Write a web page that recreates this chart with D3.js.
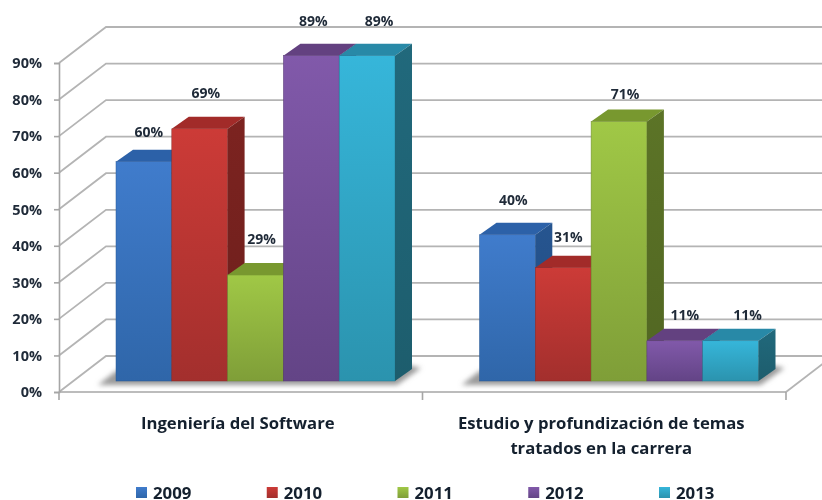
<!DOCTYPE html>
<html><head><meta charset="utf-8">
<script src="https://cdn.jsdelivr.net/npm/d3@7"></script>
<style>html,body{margin:0;padding:0;background:#fff;overflow:hidden}svg{display:block;filter:blur(.4px)}</style>
</head><body><svg id="c" width="822" height="500"></svg>
<script>
const categories = ["Ingeniería del Software", "Estudio y profundización de temas|tratados en la carrera"];
const years = ["2009","2010","2011","2012","2013"];
const values = {
  "2009":[60,40],
  "2010":[69,31],
  "2011":[29,71],
  "2012":[89,11],
  "2013":[89,11]
};
const shownLabels = {
  "2009":["60%","40%"],
  "2010":["69%","31%"],
  "2011":["29%","71%"],
  "2012":["89%","11%"],
  "2013":["89%","11%"]
};
const yTicks = [0,10,20,30,40,50,60,70,80,90];
const frontTop = ["#407ccc","#cc3b37","#a0c846","#8159aa","#36b6da"];
const frontBot = ["#2f66a9","#a32f2d","#7f9e38","#634486","#2b93ae"];
const topCol = ["#2c61a8","#a22b29","#78982f","#634180","#2889a7"];
const sideCol = ["#265590","#7c2320","#5c7427","#4b3263","#21697c"];
// label nudges relative to bar centre [dx, gap above bar]
const labelDx = [[5,6],[6,5],[6,6],[2,10],[12,17]];
const labelGap = [[30,35],[36,31],[36,27],[35,26],[35,26]];

const svg = d3.select("#c");
const defs = svg.append("defs");
years.forEach((yr,i)=>{
  const g = defs.append("linearGradient").attr("id","g"+i).attr("x1",0).attr("x2",0).attr("y1",0).attr("y2",1);
  g.append("stop").attr("offset","0").attr("stop-color",frontTop[i]);
  g.append("stop").attr("offset","1").attr("stop-color",frontBot[i]);
  const h = defs.append("linearGradient").attr("id","s"+i).attr("x1",0).attr("x2",0).attr("y1",0).attr("y2",1);
  h.append("stop").attr("offset","0").attr("stop-color",sideCol[i]);
  h.append("stop").attr("offset","1").attr("stop-color",d3.color(sideCol[i]).darker(.35));
});
defs.append("filter").attr("id","blur").attr("x","-20%").attr("y","-50%").attr("width","140%").attr("height","200%")
  .append("feGaussianBlur").attr("stdDeviation",2.4);

const FONT = "'Open Sans',sans-serif";
const wall = {dx:47, dy:-36};
const bar = {lift:11, dx:17, dy:-12, inL:57, inR:336};
const x0 = d3.scaleBand().domain(categories).range([59,786]);
const y = d3.scaleLinear().domain([0,90]).range([392,63]);
const x1 = d3.scaleBand().domain(years).range([bar.inL,bar.inR]);
const GRID="#b4b4b4", AXIS="#a6a6a6";

// walls and gridlines
const grid = svg.append("g").attr("fill","none").attr("stroke",GRID).attr("stroke-width",1.8);
yTicks.forEach(t=>{
  grid.append("path").attr("d",`M${x0.range()[0]},${y(t)}L${x0.range()[0]+wall.dx},${y(t)+wall.dy}L822,${y(t)+wall.dy}`);
});
grid.append("path").attr("d",`M${x0.range()[1]},${y(0)}L${x0.range()[1]+wall.dx},${y(0)+wall.dy}`);

// axes
const axY = d3.axisLeft(y).tickValues(yTicks).tickSize(5).tickFormat(d=>d+"%");
const gy = svg.append("g").attr("transform",`translate(${x0.range()[0]},0)`).call(axY);
gy.selectAll("path,line").attr("stroke",AXIS).attr("stroke-width",1.6);
gy.selectAll("text").attr("font-family",FONT).attr("font-weight",700).attr("font-size",14.5).attr("fill","#1f2a38").attr("x",-17).attr("dy","0.33em");
const axis = svg.append("g").attr("stroke",AXIS).attr("stroke-width",1.6);
axis.append("line").attr("x1",x0.range()[0]).attr("x2",x0.range()[1]).attr("y1",y(0)).attr("y2",y(0));
[x0.range()[0], x0(categories[1]), x0.range()[1]].forEach(px=>{
  axis.append("line").attr("x1",px).attr("x2",px).attr("y1",y(0)).attr("y2",y(0)+8);
});

// bars
categories.forEach((c,ci)=>{
  const L = x0(c)+bar.inL, R = x0(c)+bar.inR, base = y(0)-bar.lift;
  svg.append("path").attr("filter","url(#blur)").attr("fill","#9a9a9a")
    .attr("d",`M${L-18},${base+4}L${R+2},${base+4}L${R+26},${base-13}L${R+12},${base-16}L${L},${base-10}Z`);
  years.forEach((yr,i)=>{
    const bx = x0(c)+x1(yr), w = x1.bandwidth(), h = y(0)-y(values[yr][ci]), ty = base-h;
    const g = svg.append("g");
    g.append("rect").attr("x",bx).attr("y",ty).attr("width",w).attr("height",h)
      .attr("fill",`url(#g${i})`).attr("stroke",d3.color(frontBot[i]).darker(.4)).attr("stroke-width",.5);
    g.append("path").attr("fill",topCol[i])
      .attr("d",`M${bx},${ty}L${bx+bar.dx},${ty+bar.dy}L${bx+w+bar.dx},${ty+bar.dy}L${bx+w},${ty}Z`);
    g.append("path").attr("fill",`url(#s${i})`)
      .attr("d",`M${bx+w},${ty}L${bx+w+bar.dx},${ty+bar.dy}L${bx+w+bar.dx},${base+bar.dy}L${bx+w},${base}Z`);
  });
});
// data labels on top of everything
categories.forEach((c,ci)=>{
  const base = y(0)-bar.lift;
  years.forEach((yr,i)=>{
    const h = y(0)-y(values[yr][ci]);
    svg.append("text").attr("x",x0(c)+x1(yr)+x1.bandwidth()/2+labelDx[i][ci]).attr("y",base-h-labelGap[i][ci]+5)
      .attr("text-anchor","middle").attr("font-family",FONT).attr("font-weight",700).attr("font-size",14)
      .attr("fill","#1f2a38").text(shownLabels[yr][ci]);
  });
});
// category labels
categories.forEach(c=>{
  c.split("|").forEach((line,k)=>{
    svg.append("text").attr("x",x0(c)+x0.bandwidth()/2-3).attr("y",429+k*25)
      .attr("text-anchor","middle").attr("font-family",FONT).attr("font-weight",700).attr("font-size",16.7)
      .attr("fill","#14202e").text(line);
  });
});
// legend
const lg = d3.scalePoint().domain(years).range([136,659]);
years.forEach((yr,i)=>{
  svg.append("rect").attr("x",lg(yr)).attr("y",487).attr("width",11).attr("height",11).attr("fill",`url(#g${i})`);
  svg.append("text").attr("x",lg(yr)+17).attr("y",498.5).attr("font-family",FONT).attr("font-weight",700)
    .attr("font-size",16.8).attr("fill","#14202e").text(yr);
});
</script></body></html>
